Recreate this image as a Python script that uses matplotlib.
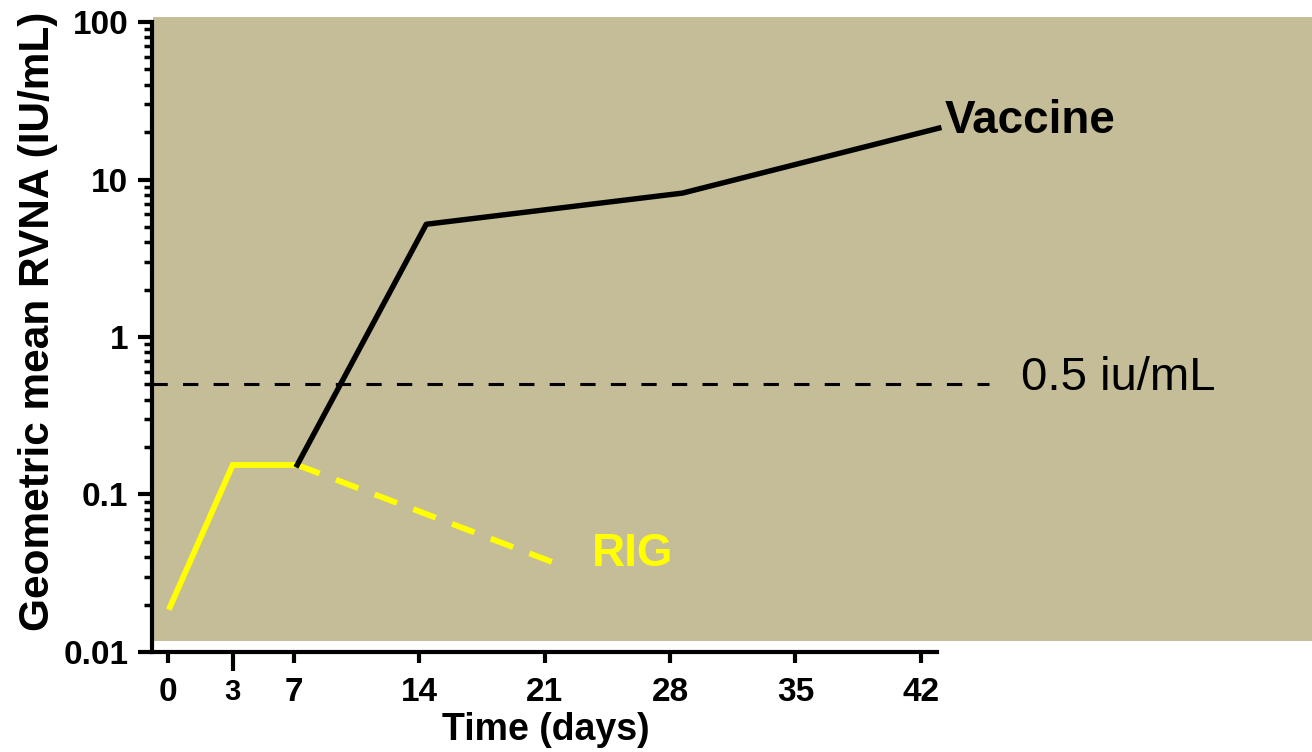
import matplotlib.pyplot as plt
from matplotlib.patches import Rectangle
from matplotlib.ticker import LogLocator, NullFormatter

plt.rcParams['font.family'] = ['Liberation Sans', 'DejaVu Sans']

# data (days, IU/mL)
rig_days = [0.1, 3.6, 7.2]
rig_vals = [0.0193, 0.154, 0.154]
rig_tail_days = [7.2, 21.5]
rig_tail_vals = [0.154, 0.037]
vac_days = [7.2, 14.4, 28.7, 43.0]
vac_vals = [0.154, 5.2, 8.2, 21.2]
threshold = 0.5

xticks = [0, 7, 14, 21, 28, 35, 42]
xticklabels = ['0', '7', '14', '21', '28', '35', '42']
yticks = [0.01, 0.1, 1, 10, 100]
yticklabels = ['0.01', '0.1', '1', '10', '100']

fig = plt.figure(figsize=(13.12, 7.52), dpi=100)
fig.patches.append(Rectangle((0.1166, 0.1476), 0.8834, 0.8294,
                             transform=fig.transFigure, facecolor='#C4BD97',
                             edgecolor='none', zorder=0))
ax = fig.add_axes([0.1159, 0.133, 0.5983, 0.8377])
ax.set_zorder(2)
ax.patch.set_alpha(0)

ax.set_yscale('log')
ax.set_ylim(0.01, 100)
ax.set_xlim(-0.9, 42.9)

ax.plot(rig_days, rig_vals, color='#FFFF00', lw=4.2, solid_joinstyle='miter')
ax.plot(rig_tail_days, rig_tail_vals, color='#FFFF00', lw=4.2, dashes=(4.1, 3.0))
ax.plot(vac_days, vac_vals, color='black', lw=3.9, clip_on=False)
ax.plot([-0.9, 45.8], [threshold, threshold], color='black', lw=2.2,
        dashes=(5, 5), clip_on=False)

ax.text(43.3, 19.7, 'Vaccine', fontsize=33, fontweight='bold', va='baseline', clip_on=False)
ax.text(23.65, 0.0352, 'RIG', fontsize=33, fontweight='bold', color='#FFFF00', va='baseline')
ax.text(47.6, 0.461, '0.5 iu/mL', fontsize=34, va='baseline', clip_on=False)

for s in ['top', 'right']:
    ax.spines[s].set_visible(False)
for s in ['left', 'bottom']:
    ax.spines[s].set_linewidth(3)

ax.set_xticks(xticks)
ax.set_xticklabels(xticklabels, fontsize=24, fontweight='bold')
ax.set_xticks([3.6], minor=True)
ax.set_xticklabels(['3'], minor=True, fontsize=21, fontweight='bold')
ax.tick_params(axis='x', which='major', length=8, width=3, pad=10)
ax.tick_params(axis='x', which='minor', length=14, width=3, pad=5)

ax.set_yticks(yticks)
ax.set_yticklabels(yticklabels, fontsize=24, fontweight='bold')
ax.yaxis.set_minor_locator(LogLocator(base=10, subs=range(2, 10)))
ax.yaxis.set_minor_formatter(NullFormatter())
ax.tick_params(axis='y', which='major', length=10, width=3, pad=7)
ax.tick_params(axis='y', which='minor', length=6, width=2.5)

ax.set_xlabel('Time (days)', fontsize=27, fontweight='bold')
ax.xaxis.set_label_coords(0.502, -0.095)
ax.set_ylabel('Geometric mean RVNA (IU/mL)', fontsize=30.5, fontweight='bold')
ax.yaxis.set_label_coords(-0.12, 0.525)

fig.savefig('out.png', dpi=100)
